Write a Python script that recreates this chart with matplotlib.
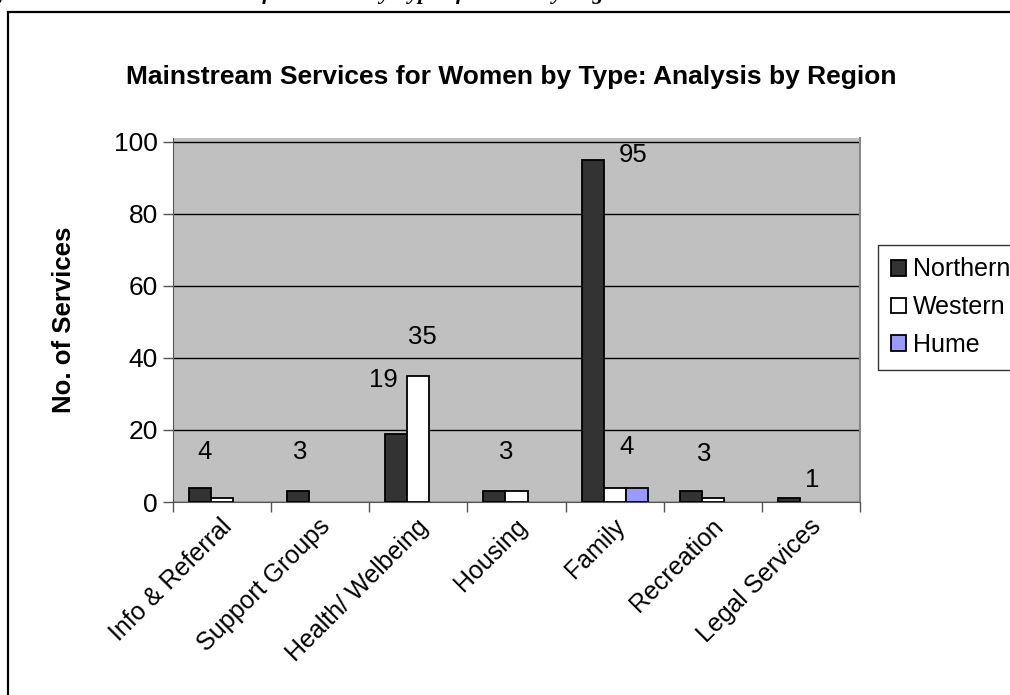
import matplotlib
matplotlib.use("Agg")
import matplotlib.pyplot as plt
from matplotlib.patches import Rectangle
import numpy as np

categories = ["Info & Referral", "Support Groups", "Health/ Welbeing", "Housing",
              "Family", "Recreation", "Legal Services"]
northern = [4, 3, 19, 3, 95, 3, 1]
western = [1, 0, 35, 3, 4, 1, 0]
hume = [0, 0, 0, 0, 4, 0, 0]
series_names = ["Northern", "Western", "Hume"]
yticks = [0, 20, 40, 60, 80, 100]

# data labels: (text, category index, offset in x, y position)
label_texts = ["4", "3", "19", "35", "3", "95", "4", "3", "1"]
label_cats = [0, 1, 2, 2, 3, 4, 4, 5, 6]
label_dx = [-0.18, -0.20, -0.36, 0.04, -0.10, 0.19, 0.12, -0.09, 0.01]
label_y = [13.9, 13.9, 33.9, 45.8, 13.9, 96.4, 15.3, 13.3, 6.1]

W, H = 1010, 695
fig = plt.figure(figsize=(W / 100, H / 100), dpi=100)
plt.rcParams['font.family'] = ['Liberation Sans', 'DejaVu Sans']

# outer frame
fig.patches.append(Rectangle((8 / W, -0.05), 1.2, (H - 12) / H + 0.05,
                             transform=fig.transFigure, fill=False,
                             edgecolor='black', lw=1.6, zorder=0))

# caption of the page, mostly cut off at the top edge as in the reference
fig.text(-28 / W, 1 + 1.5 / H,
         "Figure 5: Mainstream Services for Women by Type of Service by Region",
         fontsize=16, fontweight='bold', fontstyle='italic',
         family=['Liberation Serif', 'DejaVu Serif'], va='baseline', ha='left')

ax = fig.add_axes([173 / W, 1 - 502 / H, (860 - 173) / W, (502 - 138) / H])
ax.set_facecolor('#C0C0C0')

x = np.arange(len(categories))
bw = 0.225
colors = ['#333333', '#FFFFFF', '#9999FF']
for k, (vals, col, name) in enumerate(zip([northern, western, hume], colors, series_names)):
    v = np.array(vals, dtype=float)
    keep = v > 0
    ax.bar((x + (k - 1) * bw)[keep], v[keep], width=bw, color=col, edgecolor='black',
           linewidth=1.3, label=name, zorder=3)

for t, c, dx, yy in zip(label_texts, label_cats, label_dx, label_y):
    ax.text(c + dx, yy, t, ha='center', va='center', fontsize=18.5, zorder=4)

ax.set_xlim(-0.5, len(categories) - 0.5)
ax.set_ylim(0, 101)
ax.set_yticks(yticks)
ax.set_yticklabels([str(v) for v in yticks], fontsize=19)
ax.yaxis.grid(True, color='black', lw=1.0, zorder=1)
ax.set_axisbelow(True)

ax.set_xticks(np.arange(len(categories) + 1) - 0.5, minor=False)
ax.set_xticklabels([])
ax.tick_params(axis='x', length=7, width=1, color='#555555', direction='out')
ax.tick_params(axis='y', length=7, width=1, color='#555555', direction='out', pad=4)
for i, c in enumerate(categories):
    ax.text(i - 0.02, -3.5, c, rotation=45, ha='right', va='top',
            rotation_mode='anchor', fontsize=18)

ax.spines['top'].set_visible(False)
ax.spines['right'].set_color('#888888')
ax.spines['right'].set_linewidth(1.5)
ax.spines['left'].set_color('#555555')
ax.spines['bottom'].set_color('#555555')

ax.set_ylabel("No. of Services", fontsize=18.5, fontweight='bold', labelpad=27)

fig.text(511 / W, 1 - 77 / H,
         "Mainstream Services for Women by Type: Analysis by Region",
         ha='center', va='center', fontsize=19, fontweight='bold')

leg = fig.legend(loc='upper left', bbox_to_anchor=(878 / W, 1 - 245 / H),
                 fontsize=18, frameon=True, fancybox=False, edgecolor='black',
                 handlelength=0.6, handleheight=0.6, handletextpad=0.3,
                 labelspacing=0.55, borderpad=0.5, borderaxespad=0)
leg.get_frame().set_linewidth(1.0)

fig.savefig("out.png", dpi=100)
